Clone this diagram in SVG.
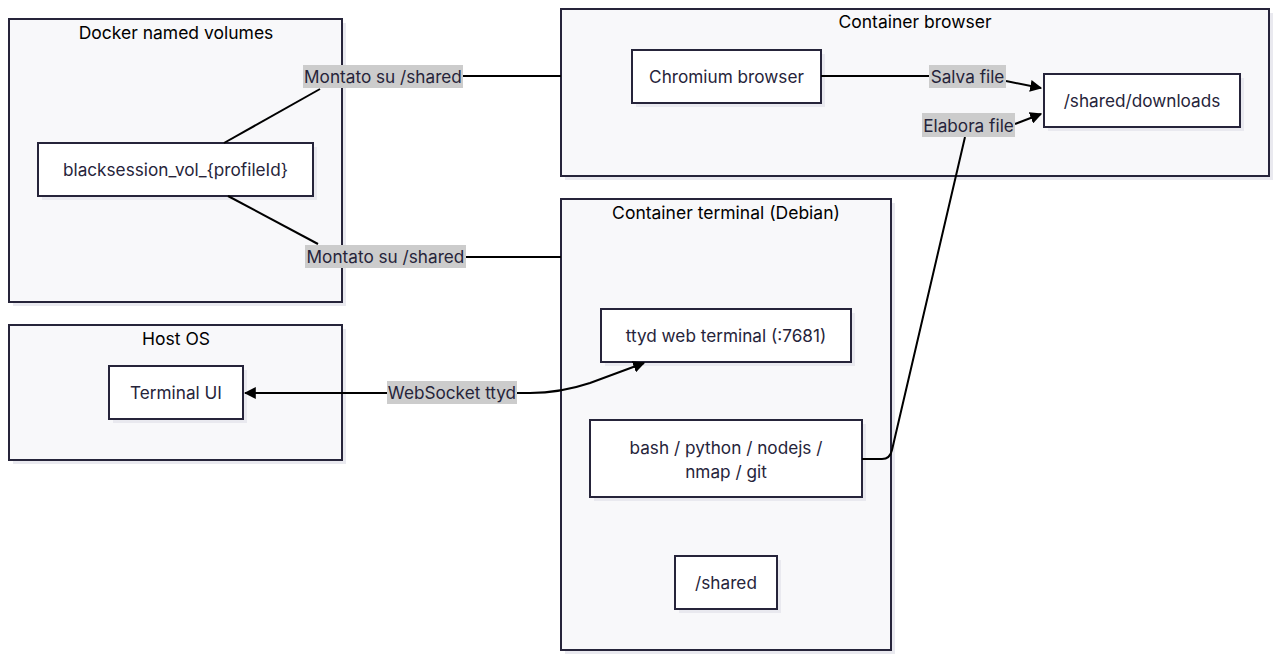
<svg xmlns="http://www.w3.org/2000/svg" width="1279" height="660" viewBox="0 0 1279 660">
<defs>
<marker id="ah" viewBox="0 0 10 10" refX="9" refY="5" markerWidth="12" markerHeight="12" markerUnits="userSpaceOnUse" orient="auto-start-reverse">
<path d="M0,0 L10,5 L0,10 z" fill="#000"/>
</marker>
<style>
.cl{fill:#f8f8fa;stroke:#26243a;stroke-width:2}
.sh{fill:#e9e9ef}
.nd{fill:#fff;stroke:#26243a;stroke-width:2}
.t{font-family:Inter,"Noto Sans","Liberation Sans",sans-serif;font-size:17.2px;fill:#26243a;text-anchor:middle;dominant-baseline:central}
.ct{font-family:Inter,"Noto Sans","Liberation Sans",sans-serif;font-size:17.5px;fill:#000;text-anchor:middle;dominant-baseline:central}
.e{fill:none;stroke:#000;stroke-width:2}
.lb{fill:#cccccc}
</style>
</defs>
<rect width="1279" height="660" fill="#fff"/>
<g id="cluster-docker">
<rect class="sh" x="13" y="23" width="333" height="283"/>
<rect class="cl" x="9" y="19" width="333" height="283"/>
<text class="ct" x="176" y="32">Docker named volumes</text>
</g>
<g id="cluster-browser">
<rect class="sh" x="565" y="13" width="708" height="167"/>
<rect class="cl" x="561" y="9" width="708" height="167"/>
<text class="ct" x="915" y="21">Container browser</text>
</g>
<g id="cluster-terminal">
<rect class="sh" x="565" y="203" width="330" height="451"/>
<rect class="cl" x="561" y="199" width="330" height="451"/>
<text class="ct" x="726" y="212">Container terminal (Debian)</text>
</g>
<g id="cluster-host">
<rect class="sh" x="13" y="329" width="333" height="135"/>
<rect class="cl" x="9" y="325" width="333" height="135"/>
<text class="ct" x="176" y="338">Host OS</text>
</g>
<g id="node-vol">
<rect class="sh" x="42" y="147" width="275" height="53"/>
<rect class="nd" x="38" y="143" width="275" height="53"/>
<text class="t" x="175.5" y="169.5">blacksession_vol_{profileId}</text>
</g>
<g id="node-chromium">
<rect class="sh" x="636" y="54" width="189" height="53"/>
<rect class="nd" x="632" y="50" width="189" height="53"/>
<text class="t" x="726.5" y="76.5">Chromium browser</text>
</g>
<g id="node-downloads">
<rect class="sh" x="1048" y="78" width="196" height="53"/>
<rect class="nd" x="1044" y="74" width="196" height="53"/>
<text class="t" x="1142" y="100.5">/shared/downloads</text>
</g>
<g id="node-ttyd">
<rect class="sh" x="605" y="313" width="250" height="53"/>
<rect class="nd" x="601" y="309" width="250" height="53"/>
<text class="t" x="726" y="335.5">ttyd web terminal (:7681)</text>
</g>
<g id="node-tools">
<rect class="sh" x="594" y="424" width="272" height="77"/>
<rect class="nd" x="590" y="420" width="272" height="77"/>
<text class="t" x="726" y="447">bash / python / nodejs /</text>
<text class="t" x="726" y="471">nmap / git</text>
</g>
<g id="node-shared">
<rect class="sh" x="679" y="560" width="102" height="53"/>
<rect class="nd" x="675" y="556" width="102" height="53"/>
<text class="t" x="726" y="582.5">/shared</text>
</g>
<g id="node-termui">
<rect class="sh" x="113" y="370" width="134" height="53"/>
<rect class="nd" x="109" y="366" width="134" height="53"/>
<text class="t" x="176" y="392.5">Terminal UI</text>
</g>
<g id="connectors">
<path class="e" d="M224,143 L320,89"/>
<path class="e" d="M463,76 L561,76"/>
<path class="e" d="M228,196 L318,244"/>
<path class="e" d="M466,257 L561,257"/>
<path class="e" d="M821,76 L929,76"/>
<path class="e" d="M1006,81 L1041,88" marker-end="url(#ah)"/>
<path class="e" d="M862,459 L882,459 Q890,459 892,450 L965,137"/>
<path class="e" d="M1015,124 L1041,114" marker-end="url(#ah)"/>
<path class="e" d="M387,393 L245,393" marker-end="url(#ah)"/>
<path class="e" d="M517,393 L530,393 Q560,393 590,383 L644,363" marker-end="url(#ah)"/>
<rect class="lb" x="303" y="65" width="160" height="23"/>
<text class="t" x="383" y="76.5">Montato su /shared</text>
<rect class="lb" x="305" y="245" width="161" height="23"/>
<text class="t" x="385.5" y="256.5">Montato su /shared</text>
<rect class="lb" x="929" y="65" width="77" height="23"/>
<text class="t" x="967.5" y="76.5">Salva file</text>
<rect class="lb" x="922" y="113" width="93" height="24"/>
<text class="t" x="968.5" y="125">Elabora file</text>
<rect class="lb" x="387" y="381" width="130" height="23"/>
<text class="t" x="452" y="392.5">WebSocket ttyd</text>
</g>
</svg>
